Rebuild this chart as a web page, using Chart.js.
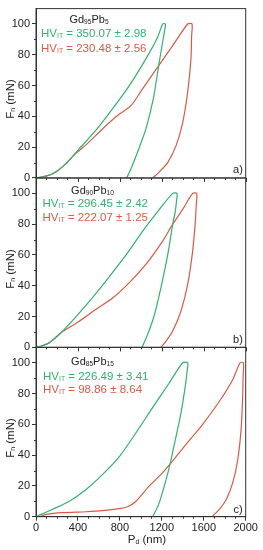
<!DOCTYPE html>
<html>
<head>
<meta charset="utf-8">
<script src="https://cdn.jsdelivr.net/npm/chart.js@4/dist/chart.umd.min.js"></script>
<style>
  html, body { margin: 0; padding: 0; background: #fff; }
  #wrap { position: relative; width: 263px; height: 550px; font-family: "Liberation Sans", Arial, sans-serif; color: #222; }
  #c { position: absolute; left: 0; top: 0; }
  .t { position: absolute; white-space: nowrap; font-size: 11px; line-height: 1; }
  .hv { font-size: 11.5px; }
  .ctr { transform: translate(-50%, -50%); }
  .lft { transform: translateY(-50%); }
  .rot { transform: translate(-50%, -50%) rotate(-90deg); font-size: 11.5px; }
  .t sub { font-size: 0.6em; position: relative; top: 0.2em; vertical-align: baseline; line-height: 0; }
  .g { color: #2fb36e; }
  .r { color: #dc5a43; }
</style>
</head>
<body>
<div id="wrap">
  <canvas id="c" width="263" height="550"></canvas>

  <div class="t rot" style="left:11px; top:99px;">F<sub>n</sub> (mN)</div>
  <div class="t rot" style="left:11px; top:269px;">F<sub>n</sub> (mN)</div>
  <div class="t rot" style="left:11px; top:438px;">F<sub>n</sub> (mN)</div>
  <div class="t ctr" style="left:147px; top:540px; font-size:11.5px;">P<sub>d</sub> (nm)</div>

  <div class="t ctr" style="left:89px; top:19px;">Gd<sub>95</sub>Pb<sub>5</sub></div>
  <div class="t lft g hv" style="left:41px; top:34px;">HV<sub>IT</sub> = 350.07 ± 2.98</div>
  <div class="t lft r hv" style="left:41px; top:48.5px;">HV<sub>IT</sub> = 230.48 ± 2.56</div>
  <div class="t ctr" style="left:238px; top:169px;">a)</div>

  <div class="t ctr" style="left:92.5px; top:190px;">Gd<sub>90</sub>Pb<sub>10</sub></div>
  <div class="t lft g hv" style="left:42.5px; top:204px;">HV<sub>IT</sub> = 296.45 ± 2.42</div>
  <div class="t lft r hv" style="left:42.5px; top:218px;">HV<sub>IT</sub> = 222.07 ± 1.25</div>
  <div class="t ctr" style="left:238px; top:339px;">b)</div>

  <div class="t ctr" style="left:92.5px; top:361px;">Gd<sub>85</sub>Pb<sub>15</sub></div>
  <div class="t lft g hv" style="left:43px; top:376.5px;">HV<sub>IT</sub> = 226.49 ± 3.41</div>
  <div class="t lft r hv" style="left:43px; top:389.5px;">HV<sub>IT</sub> = 98.86 ± 8.64</div>
  <div class="t ctr" style="left:238px; top:509px;">c)</div>
</div>
<script>
// ---- Data (P_d in nm, F_n in mN): loading -> hold -> unloading ----
const aGreenP = [0, 60, 159, 286, 413, 572, 731, 890, 1049, 1161, 1208, 1234, 1225, 1212, 1170, 1119, 1049, 970, 906, 865];
const aGreenF = [0, 0.8, 2.8, 9.3, 19, 31, 45, 60, 77.5, 91.6, 100, 100, 95, 90, 73, 51.5, 32, 17, 6, 0];
const aRedP   = [0, 100, 191, 286, 380, 477, 636, 795, 906, 1018, 1170, 1304, 1447, 1488, 1484, 1478, 1447, 1399, 1336, 1256, 1177, 1113];
const aRedF   = [0, 1.2, 3.9, 9.3, 16, 21.5, 32, 41.5, 47, 58, 73, 86, 100, 100, 92, 77.5, 56, 36, 21, 10, 4, 0];

const bGreenP = [0, 60, 127, 238, 382, 541, 700, 859, 1018, 1177, 1304, 1345, 1340, 1329, 1304, 1256, 1192, 1129, 1065, 1011];
const bGreenF = [0, 1, 3, 9.5, 20, 32.5, 46, 60, 75.5, 89.6, 100, 100, 95, 88.5, 80, 60, 39, 21, 8.4, 0];
const bRedP   = [0, 60, 127, 238, 413, 572, 731, 890, 1049, 1208, 1304, 1399, 1494, 1533, 1528, 1520, 1494, 1447, 1383, 1304, 1240, 1192];
const bRedF   = [0, 1, 3, 9.5, 17, 24.7, 32, 42, 54, 69, 80, 89.6, 100, 100, 92, 82, 62.5, 41, 23.6, 10.6, 4, 0];

const cGreenP = [0, 159, 318, 477, 636, 795, 954, 1113, 1272, 1399, 1447, 1440, 1424, 1383, 1329, 1278, 1224, 1170, 1113];
const cGreenF = [0, 4.8, 10, 17.7, 27.5, 39, 54.5, 71, 87, 100, 100, 94, 85, 67.5, 50, 34, 20, 8, 0];
const cRedP   = [0, 50, 95, 254, 477, 636, 795, 874, 954, 1081, 1208, 1288, 1431, 1590, 1749, 1876, 1946, 1978, 1975, 1971, 1956, 1924, 1876, 1813, 1749, 1679];
const cRedF   = [0, 0.3, 1.5, 2.6, 3.2, 3.9, 5.2, 6.5, 10, 20, 28.6, 35, 47, 60, 75, 89, 100, 100, 90, 78, 56.7, 37, 22, 11, 4.8, 0];

const xTickValues = [0, 400, 800, 1200, 1600, 2000];
const yTickValues = [0, 20, 40, 60, 80, 100];

// ---- Styling ----
const GREEN = '#2fb36e';
const RED = '#dc5a43';
const AXIS = '#333';
const FONT = { family: '"Liberation Sans", Arial, sans-serif', size: 11 };

function pts(P, F) { return P.map((p, i) => ({ x: p, y: F[i] })); }
function ds(label, P, F, color, axis) {
  return { label, data: pts(P, F), borderColor: color, backgroundColor: color, borderWidth: 1.2,
           pointRadius: 0, tension: 0.25, fill: false, yAxisID: axis };
}

function yScale() {
  return {
    type: 'linear', position: 'left', stack: 'panels', stackWeight: 1,
    min: 0, max: 110,
    afterBuildTicks: s => { s.ticks = yTickValues.map(v => ({ value: v })); },
    ticks: { color: '#222', font: FONT, padding: 2, callback: v => String(v) },
    grid: { drawOnChartArea: false, tickLength: 4, color: AXIS, tickColor: AXIS },
    border: { color: AXIS, width: 1 },
    afterFit: s => { s.width = 36; }
  };
}

// frame + minor ticks + inner panel x-ticks
const framePlugin = {
  id: 'frame',
  afterDraw(chart) {
    const ctx = chart.ctx, ca = chart.chartArea, xs = chart.scales.x;
    ctx.save();
    ctx.strokeStyle = AXIS; ctx.lineWidth = 1;
    ['ya', 'yb', 'yc'].forEach(id => {
      const s = chart.scales[id];
      ctx.strokeRect(ca.left, s.top, ca.right - ca.left, s.bottom - s.top);
      ctx.beginPath();
      for (let v = 10; v < 110; v += 20) {
        const y = Math.round(s.getPixelForValue(v)) + 0.5;
        ctx.moveTo(ca.left - 2, y); ctx.lineTo(ca.left, y);
      }
      ctx.stroke();
      ctx.beginPath();
      for (let v = 0; v <= 2000; v += 100) {
        const major = v % 400 === 0;
        if (id === 'yc' && major) continue;
        const x = Math.round(xs.getPixelForValue(v)) + 0.5;
        ctx.moveTo(x, s.bottom); ctx.lineTo(x, s.bottom + (major ? 4 : 2));
      }
      ctx.stroke();
    });
    ctx.restore();
  }
};

new Chart(document.getElementById('c'), {
  type: 'line',
  data: {
    datasets: [
      ds('Gd95Pb5 (green)', aGreenP, aGreenF, GREEN, 'ya'),
      ds('Gd95Pb5 (red)', aRedP, aRedF, RED, 'ya'),
      ds('Gd90Pb10 (green)', bGreenP, bGreenF, GREEN, 'yb'),
      ds('Gd90Pb10 (red)', bRedP, bRedF, RED, 'yb'),
      ds('Gd85Pb15 (green)', cGreenP, cGreenF, GREEN, 'yc'),
      ds('Gd85Pb15 (red)', cRedP, cRedF, RED, 'yc')
    ]
  },
  options: {
    responsive: false,
    animation: false,
    devicePixelRatio: 1,
    layout: { padding: { top: 8, right: 17.3, left: 0, bottom: 0 } },
    plugins: { legend: { display: false }, tooltip: { enabled: false } },
    scales: {
      x: {
        type: 'linear', min: 0, max: 2000,
        afterBuildTicks: s => { s.ticks = xTickValues.map(v => ({ value: v })); },
        ticks: { color: '#222', font: FONT, padding: 1, maxRotation: 0, callback: v => String(v) },
        grid: { drawOnChartArea: false, tickLength: 4, color: AXIS, tickColor: AXIS },
        border: { color: AXIS, width: 1 },
        afterFit: s => { s.height = 33.3; }
      },
      yc: yScale(),
      yb: yScale(),
      ya: yScale()
    }
  },
  plugins: [framePlugin]
});
</script>
</body>
</html>
